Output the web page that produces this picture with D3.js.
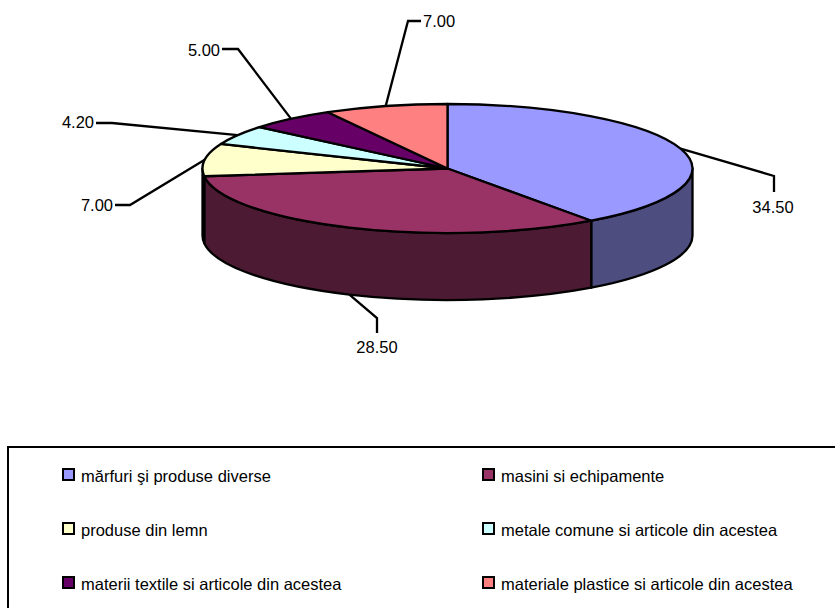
<!DOCTYPE html>
<html><head><meta charset="utf-8">
<script src="https://cdn.jsdelivr.net/npm/d3@7"></script>
<style>html,body{margin:0;padding:0;background:#fff}svg{display:block}text{font-family:"Liberation Sans",Arial,sans-serif;font-size:16.5px;fill:#000}</style>
</head><body><svg id="c" width="835" height="608"></svg>
<script>
const categories = ["mărfuri şi produse diverse","masini si echipamente","produse din lemn","metale comune si articole din acestea","materii textile si articole din acestea","materiale plastice si articole din acestea"];
const values = [34.5,28.5,7.0,4.2,5.0,7.0];
const colors = ["#9999ff","#993366","#ffffcc","#ccffff","#660066","#ff8080"];

const W=835,H=608,cx=447.5,cy=168.5,rx=245,ry=64.5,depth=67,sw=2.3;
const svg=d3.select("#c");
const arcs=d3.pie().value(d=>d).sort(null)(values);
const P=a=>[cx+rx*Math.sin(a),cy-ry*Math.cos(a)];
const half=c=>{const r=d3.rgb(c);return d3.rgb(r.r/2,r.g/2,r.b/2).formatHex();};

// side walls (front half of the disc only)
const walls=svg.append("g");
arcs.forEach((d,i)=>{
  const a0=Math.max(d.startAngle,Math.PI/2),a1=Math.min(d.endAngle,Math.PI*1.5);
  if(a1<=a0) return;
  const [x0,y0]=P(a0),[x1,y1]=P(a1);
  walls.append("path")
    .attr("d",`M${x0},${y0}A${rx},${ry} 0 0 1 ${x1},${y1}L${x1},${y1+depth}A${rx},${ry} 0 0 0 ${x0},${y0+depth}Z`)
    .attr("fill",half(colors[i])).attr("stroke","#000").attr("stroke-width",sw).attr("stroke-linejoin","round");
});

// top face
const arcGen=d3.arc().innerRadius(0).outerRadius(rx);
svg.append("g").attr("transform",`translate(${cx},${cy}) scale(1,${ry/rx})`)
  .selectAll("path").data(arcs).join("path")
  .attr("d",arcGen).attr("fill",(d,i)=>colors[i])
  .attr("stroke","#000").attr("stroke-width",sw).attr("stroke-linejoin","round")
  .attr("vector-effect","non-scaling-stroke");

// leader lines: elbow and label placement for each slice
const leaders=[
 {e:[[774,176],[774,192]],t:[773,207],a:"middle"},
 {e:[[377,318],[377,333]],t:[377,347],a:"middle",front:true},
 {e:[[130,205],[115,205]],t:[113,205],a:"end"},
 {e:[[112,123],[96,123]],t:[94,122],a:"end"},
 {e:[[238,49],[222,49]],t:[220,50],a:"end"},
 {e:[[408,21],[421,21]],t:[423,21],a:"start"}
];
const line=d3.line();
arcs.forEach((d,i)=>{
  const m=(d.startAngle+d.endAngle)/2,l=leaders[i];
  const p=P(m); if(l.front) p[1]+=depth;
  svg.append("path").attr("d",line([p,...l.e])).attr("fill","none").attr("stroke","#000").attr("stroke-width",sw);
  svg.append("text").attr("x",l.t[0]).attr("y",l.t[1]).attr("dy","0.35em").attr("text-anchor",l.a).text(d.value.toFixed(2));
});

// legend
svg.append("rect").attr("x",8).attr("y",447).attr("width",W+20).attr("height",H).attr("fill","none").attr("stroke","#000").attr("stroke-width",2);
const colX=[63,483],rowY=[475,529,583];
categories.forEach((c,i)=>{
  const x=colX[i%2],y=rowY[Math.floor(i/2)];
  svg.append("rect").attr("x",x).attr("y",y-6).attr("width",11).attr("height",11).attr("fill",colors[i]).attr("stroke","#000").attr("stroke-width",2);
  svg.append("text").attr("x",x+18).attr("y",y+1).attr("dy","0.35em").text(c);
});
</script></body></html>
